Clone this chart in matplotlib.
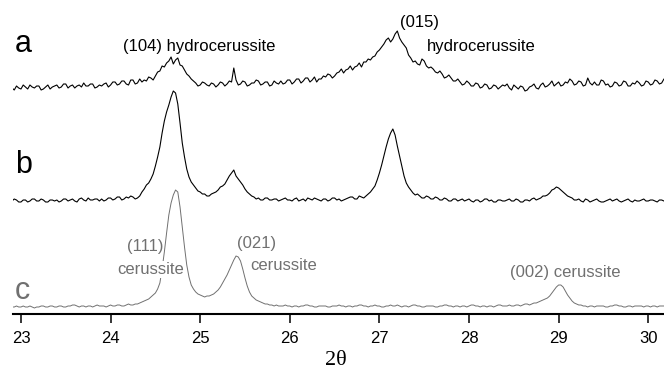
import numpy as np
import matplotlib.pyplot as plt

# scan grid: 22.900 .. 30.200 deg, 0.025 deg step (293 points)
two_theta_start = 22.90
two_theta_step = 0.025

# heights above each trace's own baseline (a.u.), one row = 0.5 deg
trace_a = [
    0, -2, 2, 0, -1, 3, 1, -1, 3, 1, 0, 2, 2, -2, -1, 1, 3, -1, 1, 2,
    3, 0, 1, 4, 4, 0, 2, 3, 0, 2, 3, 1, 5, 2, 2, 4, 4, 0, 1, 3,
    2, 4, 5, 1, 3, 6, 6, 3, 4, 7, 7, 4, 3, 8, 8, 4, 5, 9, 6, 8,
    7, 11, 10, 8, 12, 16, 17, 22, 21, 25, 27, 31, 24, 28, 30, 23, 22, 18, 14, 12,
    9, 7, 5, 2, 3, 6, 5, 3, 2, 5, 4, 1, 3, 6, 5, 2, 4, 7, 6, 20,
    8, 3, 4, 7, 6, 2, 3, 5, 5, 8, 7, 3, 4, 6, 6, 2, 3, 7, 5, 4,
    7, 4, 5, 8, 8, 4, 6, 9, 9, 5, 7, 10, 10, 6, 8, 11, 6, 9, 9, 12,
    11, 14, 13, 10, 12, 15, 16, 19, 15, 18, 19, 22, 18, 21, 22, 25, 21, 26, 26, 29,
    28, 31, 32, 36, 38, 41, 44, 48, 50, 46, 49, 54, 57, 50, 46, 43, 40, 33, 30, 26,
    27, 24, 23, 29, 27, 22, 20, 21, 19, 16, 15, 17, 14, 10, 11, 13, 10, 7, 7, 9,
    6, 3, 4, 7, 5, 2, 2, 5, 4, 0, 1, 4, 3, -1, 0, 3, 2, -1, 1, 3,
    2, 4, 0, -2, 3, 1, -1, 2, 1, -3, -2, 1, 2, 4, 0, -1, 3, 5, 1, 2,
    4, 7, 2, 4, 6, 2, 3, 6, 5, 9, 7, 3, 4, 7, 6, 2, 3, 10, 5, 3,
    6, 3, 3, 8, 7, 3, 4, 1, 2, 6, 5, 2, 3, 7, 6, 2, 2, 5, 4, 7,
    5, 2, 3, 7, 6, 3, 4, 8, 7, 4, 5, 9, 8,
]
trace_b = [
    0, 2, 1, -1, -1, 1, 1, -1, 0, 2, 2, 0, 0, 2, 1, -1, -1, 1, 1, 0,
    1, -1, 0, 2, 2, 0, 1, 2, 0, -1, 2, 3, 1, 0, 3, 1, 1, 2, 2, 0,
    2, 0, 1, 3, 3, 1, 2, 4, 4, 1, 2, 4, 3, 5, 4, 2, 3, 5, 9, 12,
    16, 18, 22, 27, 35, 44, 54, 68, 80, 89, 96, 104, 110, 108, 97, 78, 58, 44, 32, 24,
    19, 16, 13, 10, 9, 7, 7, 5, 5, 7, 8, 9, 11, 14, 15, 17, 21, 25, 28, 31,
    25, 22, 19, 16, 12, 9, 7, 5, 4, 2, 3, 1, 1, 3, 3, 1, 1, 2, 2, 0,
    1, 2, 3, 1, 1, 0, 2, 3, 0, 1, 2, 0, 3, 2, 1, 3, 2, 1, 0, 2,
    2, 0, 1, 3, 3, 1, 2, 0, 1, 2, 3, 4, 4, 2, 2, 5, 4, 3, 5, 7,
    9, 12, 15, 21, 28, 36, 45, 54, 62, 68, 72, 66, 55, 45, 35, 25, 18, 14, 11, 8,
    6, 7, 5, 3, 3, 5, 4, 2, 2, 4, 3, 1, 1, 3, 2, 0, 0, 2, 2, 0,
    1, 2, 0, 1, 2, 0, -1, 1, 1, -1, 0, 2, 2, 0, 1, -1, -1, 1, 1, 0,
    0, 1, 2, 0, 0, 2, 1, -1, -1, 1, 1, 0, 2, 3, 1, 2, 3, 5, 5, 6,
    8, 11, 12, 14, 13, 11, 9, 7, 5, 4, 3, 1, 1, 2, 0, -1, 2, 1, -1, 0,
    1, 2, 0, -1, -1, 0, 1, 2, 0, 1, 2, 0, -1, 0, 1, 2, 0, -1, 1, 0,
    0, 1, 2, 0, 0, 1, 1, 0, -1, 1, 1, 0, 0,
]
trace_c = [
    0, 0, 1, 0, 0, 1, 0, 0, 1, 0, -1, 0, 0, 1, 1, 0, 0, 1, 1, 0,
    0, 1, 1, 0, 0, 1, 1, 2, 2, 1, 0, 1, 1, 0, 1, 1, 0, 1, 2, 1,
    1, 1, 0, 1, 2, 1, 1, 2, 2, 1, 1, 2, 3, 2, 2, 3, 3, 4, 5, 6,
    7, 8, 10, 12, 14, 18, 24, 38, 55, 74, 92, 104, 112, 117, 115, 100, 80, 60, 42, 30,
    22, 18, 15, 13, 12, 11, 10, 11, 11, 12, 13, 15, 17, 20, 24, 28, 32, 37, 42, 47,
    51, 50, 46, 38, 29, 21, 15, 11, 9, 7, 6, 5, 4, 3, 3, 2, 2, 1, 2, 1,
    1, 1, 2, 1, 1, 0, 1, 1, 0, 1, 1, 2, 2, 1, 1, 0, 0, 1, 1, 1,
    1, 0, 0, 1, 1, 1, 2, 1, 1, 0, 1, 1, 0, 1, 1, 2, 2, 1, 1, 0,
    1, 1, 2, 1, 1, 0, 0, 1, 1, 2, 1, 1, 2, 1, 0, 1, 1, 0, 1, 2,
    2, 1, 1, 0, 0, 1, 1, 1, 1, 0, 0, 1, 1, 2, 2, 1, 1, 0, 1, 1,
    0, 1, 1, 0, 1, 2, 2, 1, 1, 0, 1, 1, 0, 1, 1, 0, 1, 2, 2, 1,
    1, 1, 2, 1, 1, 2, 2, 1, 2, 3, 3, 2, 3, 4, 4, 5, 6, 7, 8, 9,
    11, 14, 17, 20, 22, 22, 20, 16, 12, 9, 6, 4, 3, 2, 2, 1, 1, 0, 1, 1,
    0, 1, 1, 1, 1, 0, 0, 1, 1, 2, 2, 1, 1, 0, 0, 1, 1, 0, 1, 1,
    1, 1, 0, 1, 1, 0, 1, 1, 0, 1, 1, 1, 1,
]

tick_values = [23, 24, 25, 26, 27, 28, 29, 30]

# vertical stacking of the three patterns
offset_a = 226
offset_b = 113
offset_c = 7

GREY = '#707070'


def scan(values):
    return two_theta_start + two_theta_step * np.arange(len(values))


def main():
    fig = plt.figure(figsize=(6.64, 3.70), dpi=100)
    ax = fig.add_axes([13 / 664, 56 / 370, 651 / 664, 314 / 370])

    ax.plot(scan(trace_a), np.array(trace_a) + offset_a, color='black', lw=0.8)
    ax.plot(scan(trace_b), np.array(trace_b) + offset_b, color='black', lw=0.8)
    ax.plot(scan(trace_c), np.array(trace_c) + offset_c, color=GREY, lw=0.7)

    ax.set_xlim(22.911, 30.176)
    ax.set_ylim(0, 314)

    for side in ['top', 'left', 'right']:
        ax.spines[side].set_visible(False)
    ax.spines['bottom'].set_linewidth(1.5)
    ax.set_yticks([])
    ax.set_xticks(tick_values)
    ax.tick_params(axis='x', direction='out', length=6.5, width=1.1, pad=6,
                   labelsize=12)
    for lab in ax.get_xticklabels():
        lab.set_family(['Liberation Sans Narrow', 'Liberation Sans'])

    sans = 'Liberation Sans'
    # sample letters
    ax.text(22.933, 262, 'a', fontsize=22, family=sans, va='baseline')
    ax.text(22.933, 141, 'b', fontsize=22, family=sans, va='baseline')
    ax.text(22.933, 15, 'c', fontsize=22, family=sans, va='baseline', color=GREY)

    # peak labels
    ax.text(24.139, 267, '(104) hydrocerussite', fontsize=12, family=sans, va='center')
    ax.text(27.231, 291, '(015)', fontsize=12, family=sans, va='center')
    ax.text(27.533, 268, 'hydrocerussite', fontsize=12, family=sans, va='center')

    ax.text(24.183, 67, '(111)', fontsize=12, family=sans, va='center', color=GREY)
    ax.text(24.072, 44.5, 'cerussite', fontsize=12, family=sans, va='center', color=GREY,
            bbox=dict(facecolor='white', edgecolor='none', pad=0.5), zorder=5)
    ax.text(25.41, 70.5, '(021)', fontsize=12, family=sans, va='center', color=GREY)
    ax.text(25.557, 48.5, 'cerussite', fontsize=12, family=sans, va='center', color=GREY)
    ax.text(28.459, 41.5, '(002) cerussite', fontsize=12, family=sans, va='center', color=GREY)

    fig.text(336 / 664, 1 - 365 / 370, '2θ', fontsize=16, family='Liberation Serif',
             ha='center', va='baseline')

    fig.savefig('out.png', dpi=100)


if __name__ == "__main__":
    main()
